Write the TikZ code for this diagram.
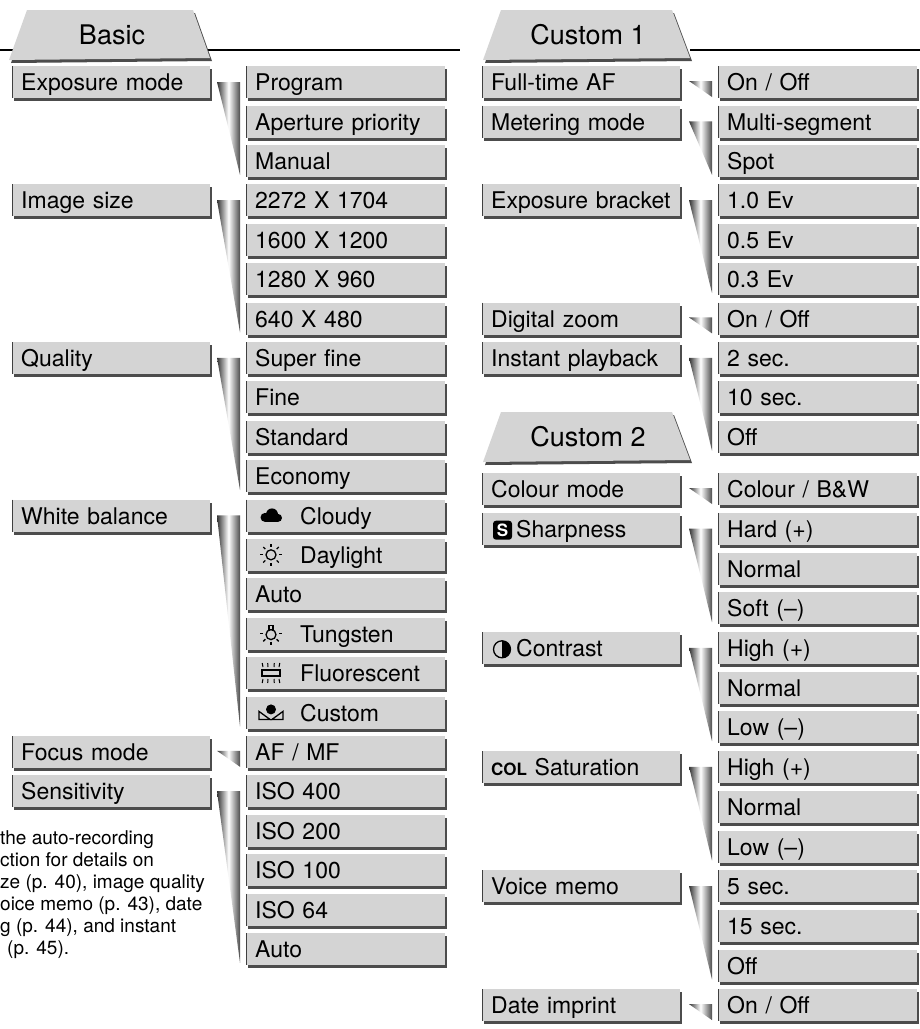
\documentclass[tikz,border=0pt]{standalone}
\usepackage{fontspec}
\setmainfont{TeX Gyre Heros}
\usetikzlibrary{shadows}
\tikzset{
 bx/.style={anchor=north west, fill=black!17, minimum height=32pt, inner xsep=9pt, inner ysep=0pt, align=left,
   text height=19pt, text depth=2pt,
   font=\fontsize{23}{24}\selectfont,
   drop shadow={shadow xshift=2pt, shadow yshift=-3pt, fill=black!70, opacity=1},
   path picture={\draw[line width=2.5pt,black!75] (path picture bounding box.north west) -- (path picture bounding box.south west);}},
 lbox/.style={bx, text width=180pt, minimum width=198pt},
 vbox/.style={bx, text width=181pt, minimum width=199pt},
 tab/.style={fill=black!17, drop shadow={shadow xshift=2pt, shadow yshift=-3pt, fill=black!70, opacity=1}},
 wedge/.style={left color=black!80, right color=black!70, middle color=white},
 ic/.style={line width=1.3pt},
}
\newcommand\LT[1]{(66+39.4*#1)}
\newcommand\RB[1]{(473+39.7*#1)}
\begin{document}
\begin{tikzpicture}[x=1pt,y=-1pt]
\useasboundingbox (0,0) rectangle (920,1029);
% headers
\draw[line width=1.6pt] (0,50) -- (460,50);
\draw[line width=1.6pt] (690,50) -- (920,50);
\path[tab] (9,60) -- (27,10) -- (193,10) -- (210,58) -- cycle;
\node[font=\fontsize{27}{28}\selectfont] (hb) at (112,35) {Basic};
\path[tab] (483,60) -- (501,10) -- (672,10) -- (690,58) -- cycle;
\node[font=\fontsize{27}{28}\selectfont] (hc1) at (588,35) {Custom 1};
\path[tab] (483,462) -- (501,412) -- (672,412) -- (690,460) -- cycle;
\node[font=\fontsize{27}{28}\selectfont] (hc2) at (588,437) {Custom 2};
% wedges
\newcommand\mw[4]{\shade[wedge] (#1,{#2+16}) -- (#1+23,{#2+16}) -- (#1+23,{#3+30}) -- cycle;}
\newcommand\sw[2]{\shade[wedge] (#1,{#2+15}) -- (#1+23,{#2+15}) -- (#1+23,{#2+31}) -- cycle;}
\mw{217}{\LT{0}}{\LT{2}}{}
\mw{217}{\LT{3}}{\LT{6}}{}
\mw{217}{\LT{7}}{\LT{10}}{}
\mw{217}{\LT{11}}{\LT{16}}{}
\sw{217}{\LT{17}}
\mw{217}{\LT{18}}{\LT{22}}{}
\sw{689}{\LT{0}}
\mw{689}{\LT{1}}{\LT{2}}{}
\mw{689}{\LT{3}}{\LT{5}}{}
\sw{689}{\LT{6}}
\mw{689}{\LT{7}}{\LT{9}}{}
\sw{689}{\RB{0}}
\mw{689}{\RB{1}}{\RB{3}}{}
\mw{689}{\RB{4}}{\RB{6}}{}
\mw{689}{\RB{7}}{\RB{9}}{}
\mw{689}{\RB{10}}{\RB{12}}{}
\sw{689}{\RB{13}}
% left labels
\node[lbox] (l0) at (12,{\LT{0}}) {Exposure mode};
\node[lbox] (l1) at (12,{\LT{3}}) {Image size};
\node[lbox] (l2) at (12,{\LT{7}}) {Quality};
\node[lbox] (l3) at (12,{\LT{11}}) {White balance};
\node[lbox] (l4) at (12,{\LT{17}}) {Focus mode};
\node[lbox] (l5) at (12,{\LT{18}}) {Sensitivity};
% left values
\foreach \i/\t in {0/Program,1/Aperture priority,2/Manual,3/2272 X 1704,4/1600 X 1200,5/1280 X 960,6/640 X 480,7/Super fine,8/Fine,9/Standard,10/Economy,13/Auto,17/{AF / MF},18/ISO 400,19/ISO 200,20/ISO 100,21/ISO 64,22/Auto}
  \node[vbox] (v\i) at (246,{\LT{\i}}) {\t};
\foreach \i/\t in {11/Cloudy,12/Daylight,14/Tungsten,15/Fluorescent,16/Custom}
  \node[vbox] (v\i) at (246,{\LT{\i}}) {\hspace*{45pt}\t};
% WB icons
\begin{scope}[shift={(271,{\LT{11}+17})}]
 \fill (-6,1) circle (4.5); \fill (1,-2) circle (6); \fill (7,1.5) circle (4);
 \fill (-6,1) rectangle (7,5.5);
\end{scope}
\begin{scope}[shift={(271,{\LT{12}+16})}]
 \draw[ic] (0,0) circle (5);
 \foreach \a in {0,45,...,315} \draw[ic] (\a:8) -- (\a:11);
\end{scope}
\begin{scope}[shift={(271,{\LT{14}+16})}]
 \draw[ic] (0,1) circle (5); \draw[ic] (-2,-4) -- (-2,-8) -- (2,-8) -- (2,-4);
 \foreach \a in {0,45,90,135,180} \draw[ic] (\a:8) -- (\a:11);
\end{scope}
\begin{scope}[shift={(271,{\LT{15}+16})}]
 \draw[ic] (-9,-3) rectangle (9,3);
 \foreach \x in {-8,-3,3,8} {\draw[line width=1pt] (\x,-6) -- (\x*1.1,-10); \draw[line width=1pt] (\x,6) -- (\x*1.1,10);}
\end{scope}
\begin{scope}[shift={(271,{\LT{16}+16})}]
 \fill (0,-3) circle (5);
 \draw[ic] (-12,7) -- (-1,7) -- (-12,-1) -- cycle;
 \draw[ic] (12,7) -- (1,7) -- (12,-1) -- cycle;
\end{scope}
% right top labels
\node[lbox] (r0) at (482,{\LT{0}}) {Full-time AF};
\node[lbox] (r1) at (482,{\LT{1}}) {Metering mode};
\node[lbox] (r2) at (482,{\LT{3}}) {Exposure bracket};
\node[lbox] (r3) at (482,{\LT{6}}) {Digital zoom};
\node[lbox] (r4) at (482,{\LT{7}}) {Instant playback};
\foreach \i/\t in {0/{On / Off},1/Multi-segment,2/Spot,3/1.0 Ev,4/0.5 Ev,5/0.3 Ev,6/{On / Off},7/2 sec.,8/10 sec.,9/Off}
  \node[vbox] (rv\i) at (718,{\LT{\i}}) {\t};
% right bottom
\node[lbox] (s0) at (482,{\RB{0}}) {Colour mode};
\node[lbox] (s1) at (482,{\RB{1}}) {\hspace*{25pt}Sharpness};
\node[lbox] (s2) at (482,{\RB{4}}) {\hspace*{25pt}Contrast};
\node[lbox] (s3) at (482,{\RB{7}}) {{\fontsize{17}{17}\selectfont\bfseries COL} Saturation};
\node[lbox] (s4) at (482,{\RB{10}}) {Voice memo};
\node[lbox] (s5) at (482,{\RB{13}}) {Date imprint};
\foreach \i/\t in {0/{Colour / B\&W},1/Hard (+),2/Normal,3/Soft (--),4/High (+),5/Normal,6/Low (--),7/High (+),8/Normal,9/Low (--),10/5 sec.,11/15 sec.,12/Off,13/{On / Off}}
  \node[vbox] (sv\i) at (718,{\RB{\i}}) {\t};
% sharpness / contrast icons
\fill[rounded corners=3pt] (493,{\RB{1}+8}) rectangle (512,{\RB{1}+27});
\node[white,font=\fontsize{17}{17}\selectfont\bfseries] (sic) at (502.5,{\RB{1}+17.5}) {S};
\draw[line width=1.3pt] (502,{\RB{4}+17.5}) circle (8.5);
\fill (502,{\RB{4}+17.5}) -- (502,{\RB{4}+9}) arc (-90:90:8.5) -- cycle;
% note text
\node[anchor=north west, align=left, inner sep=0pt, font=\fontsize{19}{22}\selectfont] (note) at (0,830) {the auto-recording\\ction for details on\\ze (p. 40), image quality\\oice memo (p. 43), date\\g (p. 44), and instant\\\hspace*{7pt}(p. 45).};
\end{tikzpicture}
\end{document}
